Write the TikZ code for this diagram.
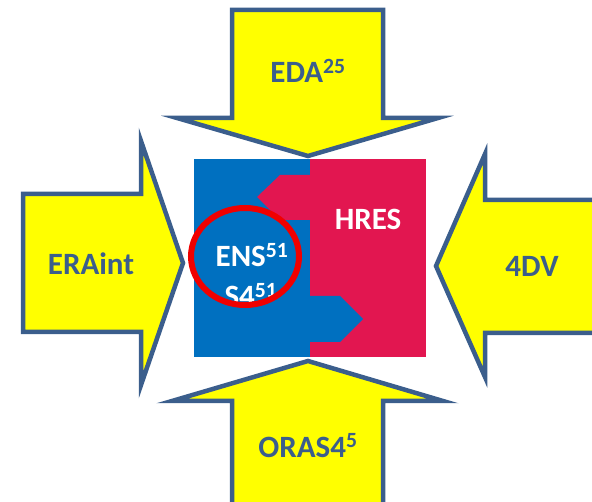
\documentclass[tikz,border=0pt]{standalone}
\usepackage{fontspec}
\setmainfont{Carlito}
\usetikzlibrary{positioning}
\definecolor{arrowFill}{RGB}{255,255,0}
\definecolor{arrowEdge}{RGB}{59,94,140}
\definecolor{ensBlue}{RGB}{0,112,192}
\definecolor{hresRed}{RGB}{226,22,80}
\definecolor{ringRed}{RGB}{240,0,0}

\begin{document}
\begin{tikzpicture}[x=1pt,y=-1pt]

            \tikzstyle{bigArrow} = [fill=arrowFill, draw=arrowEdge, line width=4.5pt, line join=miter];
            \tikzstyle{arrowLabel} = [text=arrowEdge, anchor=base, inner sep=0pt, font=\fontsize{31}{36}\selectfont\bfseries];
            \tikzstyle{boxLabel} = [text=white, anchor=base, inner sep=0pt, font=\fontsize{31}{36}\selectfont\bfseries];

            \useasboundingbox (0,0) rectangle (592,502);
            \clip (0,0) rectangle (592,502);

            % the four input arrows
            \draw[bigArrow] (232,10) -- (383,10) -- (383,118) -- (438,118) -- (308,156)
                -- (177,118) -- (232,118) -- cycle;
            \draw[bigArrow] (232,520) -- (232,401) -- (172,401) -- (308,361) -- (443,401)
                -- (383,401) -- (383,520) -- cycle;
            \draw[bigArrow] (23,194) -- (141,194) -- (141,141) -- (183,263) -- (141,385)
                -- (141,332) -- (23,332) -- cycle;
            \draw[bigArrow] (610,200) -- (485,200) -- (485,154) -- (436,266) -- (485,377)
                -- (485,333) -- (610,333) -- cycle;

            % centre square
            \fill[ensBlue] (194,159) rectangle (310,357);
            \fill[hresRed] (310,159) rectangle (426,357);
            \fill[hresRed] (310,175) -- (280,175) -- (257,197) -- (280,220) -- (310,220) -- cycle;
            \fill[ensBlue] (310,296) -- (340,296) -- (363,319) -- (340,342) -- (310,342) -- cycle;

            \node[arrowLabel] (eda)    at (308,83)  {EDA\textsuperscript{25}};
            \node[arrowLabel] (oras)   at (308,457) {ORAS4\textsuperscript{5}};
            \node[arrowLabel] (eraint) at (91,275)  {ERAint};
            \node[arrowLabel] (fourdv) at (532,277) {4DV};

            \node[boxLabel] (hres) at (368,230) {HRES};
            \begin{scope}
              \clip (245,256.5) ellipse [x radius=54, y radius=48.5];
              \node[boxLabel] (ens) at (252,267) {ENS\textsuperscript{51}};
              \node[boxLabel] (s4)  at (251,307) {S4\textsuperscript{51}};
            \end{scope}
            \draw[ringRed, line width=6pt] (245,256.5) ellipse [x radius=54, y radius=48.5];

\end{tikzpicture}
\end{document}
